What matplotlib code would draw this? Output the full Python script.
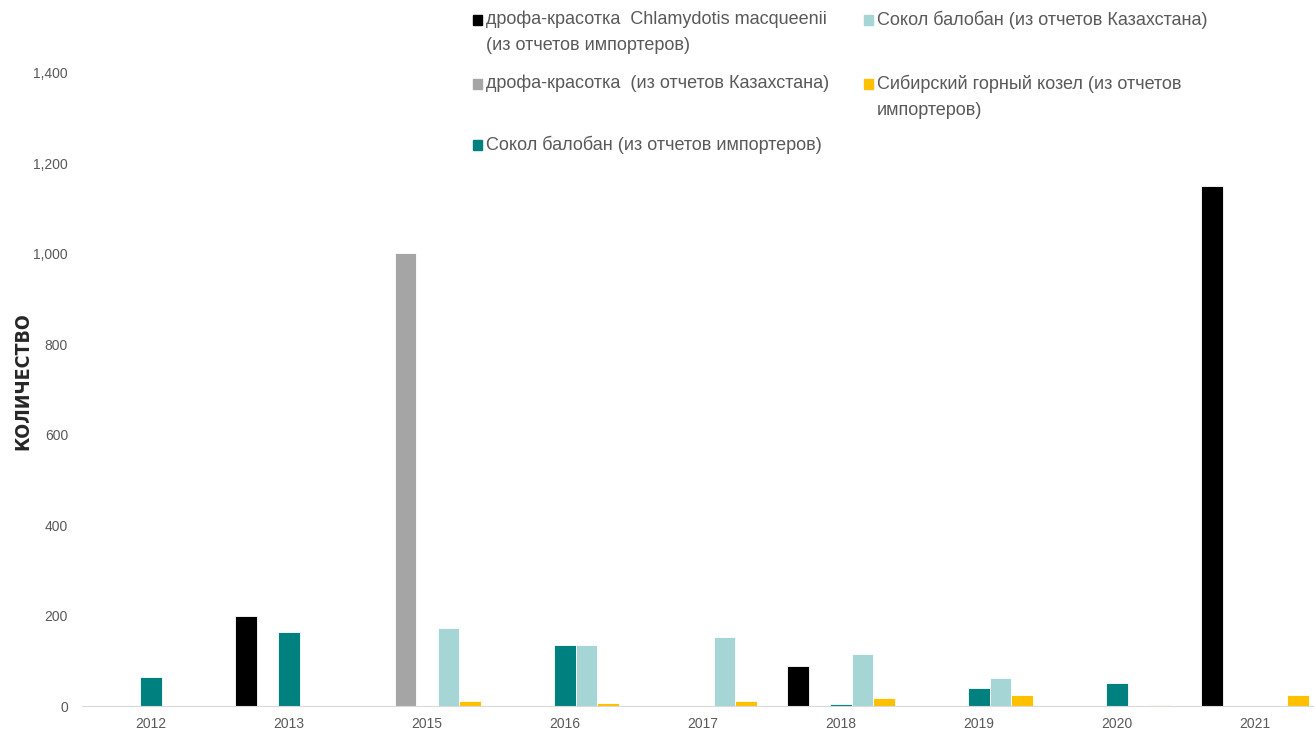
import numpy as np
import matplotlib
matplotlib.use("Agg")
import matplotlib.pyplot as plt
from matplotlib.patches import Rectangle

nan = np.nan
years = ["2012", "2013", "2015", "2016", "2017", "2018", "2019", "2020", "2021"]

bustard_imp = [nan, 200, nan, nan, nan, 88, nan, nan, 1150]
bustard_kz = [nan, nan, 1003, nan, nan, nan, nan, nan, nan]
saker_imp = [64, 164, nan, 134, nan, 4, 39, 51, nan]
saker_kz = [nan, nan, 172, 134, 153, 114, 63, nan, nan]
ibex_imp = [nan, nan, 10, 7, 10, 17, 25, 2, 25]

names = ["дрофа-красотка  Chlamydotis macqueenii\n(из отчетов импортеров)",
         "дрофа-красотка  (из отчетов Казахстана)",
         "Сокол балобан (из отчетов импортеров)",
         "Сокол балобан (из отчетов Казахстана)",
         "Сибирский горный козел (из отчетов\nимпортеров)"]
colors = ["#000000", "#A5A5A5", "#00807F", "#A6D5D5", "#FFC000"]
series = [bustard_imp, bustard_kz, saker_imp, saker_kz, ibex_imp]

W, H = 1314, 731
fig = plt.figure(figsize=(W / 100, H / 100), dpi=100)
ax = fig.add_axes([82 / W, 25 / H, (W - 82) / W, (706 - 73) / H])

x = np.arange(len(years))
bw = 0.157
for i, (vals, c) in enumerate(zip(series, colors)):
    ax.bar(x + (i - 2) * bw, vals, bw, color=c, edgecolor="white", linewidth=0.6)

ax.set_xlim(-0.5, (W - 82) / 138 - 0.5)
ax.set_ylim(0, 1400)
ax.set_yticks(np.arange(0, 1401, 200))
ax.yaxis.set_major_formatter(matplotlib.ticker.FuncFormatter(lambda v, p: f"{int(v):,}"))
ax.set_xticks(x)
ax.set_xticklabels(years)
for s in ["top", "right", "left"]:
    ax.spines[s].set_visible(False)
ax.spines["bottom"].set_color("#D9D9D9")
ax.tick_params(axis="both", length=0, labelsize=10, labelcolor="#595959")
ax.tick_params(axis="y", pad=10)
ax.tick_params(axis="x", pad=8)
for lab in ax.get_xticklabels() + ax.get_yticklabels():
    lab.set_family(["Liberation Sans", "DejaVu Sans"])

fig.text(23 / W, 1 - 381 / H, "КОЛИЧЕСТВО", rotation=90, ha="center", va="center",
         fontsize=14, fontweight="bold", fontstretch="condensed", color="#262626",
         family=["DejaVu Sans"])

# legend laid out like the Excel grid
pos = [(473, 20), (473, 84), (473, 145), (864, 20), (864, 84)]
for (px, py), name, c in zip(pos, names, colors):
    fig.add_artist(Rectangle((px / W, 1 - (py + 4.5) / H), 9 / W, 9 / H,
                             transform=fig.transFigure, color=c))
    fig.text((px + 13) / W, 1 - (py - 9) / H, name, ha="left", va="top",
             fontsize=13, color="#595959", linespacing=1.65,
             family=["Liberation Sans", "DejaVu Sans"])

fig.savefig("out.png", dpi=100)
